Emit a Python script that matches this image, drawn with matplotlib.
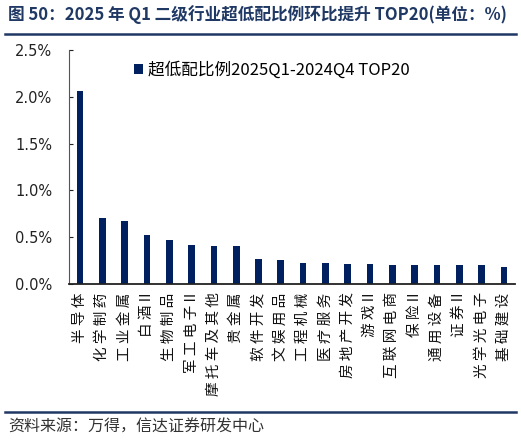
import matplotlib
matplotlib.use('Agg')
import matplotlib.pyplot as plt
from matplotlib.lines import Line2D
from matplotlib.ticker import FuncFormatter

plt.rcParams['font.family'] = ['Noto Sans CJK SC', 'DejaVu Sans']

# 二级行业
industries = ['半导体', '化学制药', '工业金属', '白酒II', '生物制品',
              '军工电子II', '摩托车及其他', '贵金属', '软件开发', '文娱用品',
              '工程机械', '医疗服务', '房地产开发', '游戏II', '互联网电商',
              '保险II', '通用设备', '证券II', '光学光电子', '基础建设']
# 超低配比例环比变化 (%)
ratio_change = [2.06, 0.70, 0.675, 0.52, 0.47, 0.42, 0.41, 0.405, 0.27, 0.255,
                0.225, 0.225, 0.215, 0.215, 0.205, 0.20, 0.20, 0.20, 0.20, 0.18]
y_ticks = [0.0, 0.5, 1.0, 1.5, 2.0, 2.5]

title = '图 50：2025 年 Q1 二级行业超低配比例环比提升 TOP20(单位：%)'
legend_label = '超低配比例2025Q1-2024Q4 TOP20'
source = '资料来源：万得，信达证券研发中心'

NAVY = '#002060'
TITLE_COLOR = '#1F3864'


def spaced(label):
    # 竖排标签字间距：II 保持为一个整体
    parts = []
    i = 0
    while i < len(label):
        if label[i:i + 2] == 'II':
            parts.append('II')
            i += 2
        else:
            parts.append(label[i])
            i += 1
    return ' '.join(parts)


fig = plt.figure(figsize=(5.21, 4.41), dpi=100)
ax = fig.add_axes([0.1324, 0.356, 0.8561, 0.5306])

x = range(len(industries))
ax.bar(x, ratio_change, width=0.3, color=NAVY, label=legend_label)
ax.set_xlim(-0.5, len(industries) - 0.5)
ax.set_ylim(0, 2.5)
ax.set_yticks(y_ticks)
ax.yaxis.set_major_formatter(FuncFormatter(lambda v, p: '{:.1f}%'.format(v)))
ax.tick_params(axis='y', direction='in', length=3, width=0.8, pad=12,
               labelsize=10.5, colors='#222222')
for t in ax.get_yticklabels():
    t.set_family('DejaVu Sans')
ax.set_xticks(list(x))
ax.set_xticklabels([spaced(s) for s in industries], rotation=90,
                   fontsize=10.5, va='top', ha='center')
ax.tick_params(axis='x', length=0, pad=6, colors='#111111')

for side in ['top', 'right']:
    ax.spines[side].set_visible(False)
ax.spines['left'].set_color('#555555')
ax.spines['left'].set_linewidth(0.8)
ax.spines['bottom'].set_color('#222222')
ax.spines['bottom'].set_linewidth(1.3)

ax.legend(loc='upper left', bbox_to_anchor=(0.13, 0.98), frameon=False,
          fontsize=12, handlelength=0.55, handleheight=0.55, handletextpad=0.3,
          borderaxespad=0)

# 标题与分隔线
fig.text(0.015, 0.966, title, fontsize=12, fontweight='bold',
         color=TITLE_COLOR, va='center', ha='left')
fig.add_artist(Line2D([0.01, 0.99], [0.924, 0.924], color=TITLE_COLOR,
                      linewidth=1.8, transform=fig.transFigure))
fig.add_artist(Line2D([0.01, 0.99], [0.066, 0.066], color=TITLE_COLOR,
                      linewidth=1.8, transform=fig.transFigure))
fig.text(0.015, 0.032, source, fontsize=11.5, color='#333333',
         va='center', ha='left', style='italic')

fig.savefig('out.png', dpi=100)
